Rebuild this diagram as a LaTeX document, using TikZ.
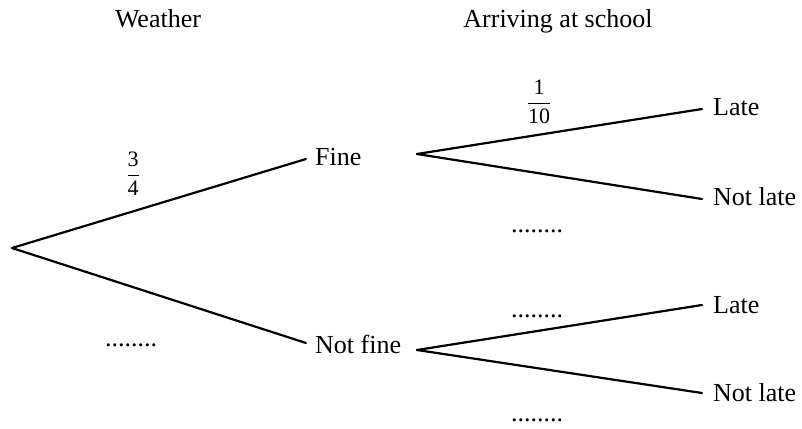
\documentclass[tikz,border=0pt]{standalone}
\usepackage{amsmath}
\usepackage{fontspec}
\setmainfont{Liberation Serif}
\begin{document}
\begin{tikzpicture}[x=1pt,y=-1pt,
  lbl/.style={inner sep=0pt,anchor=base west,font=\fontsize{26}{30}\selectfont},
  head/.style={inner sep=0pt,anchor=base,font=\fontsize{26}{30}\selectfont},
  frac/.style={inner sep=0pt,font=\fontsize{22}{25}\selectfont},
  branch/.style={line width=2.2pt,line cap=round}]
\useasboundingbox (0,0) rectangle (802,428);
% headings
\node[head] (weather) at (158,28) {Weather};
\node[head] (arriving) at (558,28) {Arriving at school};
% junction points
\coordinate (root) at (12,248);
\coordinate (fineend) at (306,159);
\coordinate (notfineend) at (306,343);
\coordinate (finestart) at (417,154);
\coordinate (notfinestart) at (417,350);
\coordinate (l1) at (702,109);
\coordinate (n1) at (702,199);
\coordinate (l2) at (702,305);
\coordinate (n2) at (702,393);
% labels
\node[lbl] (fine) at (315,165) {Fine};
\node[lbl] (notfine) at (315,353) {Not fine};
\node[lbl] (late1) at (713,115) {Late};
\node[lbl] (notlate1) at (713,205) {Not late};
\node[lbl] (late2) at (713,313) {Late};
\node[lbl] (notlate2) at (713,401) {Not late};
% probabilities
\node[frac] (p34) at (133,174) {$\genfrac{}{}{1.6pt}{0}{\text{3}}{\text{4}}$};
\node[frac] (p110) at (539,102) {$\genfrac{}{}{1.6pt}{0}{\text{1}}{\text{10}}$};
\node[head] (d1) at (131,346) {........};
\node[head] (d2) at (537,232) {........};
\node[head] (d3) at (537,317) {........};
\node[head] (d4) at (537,421) {........};
% branches
\draw[branch] (root) -- (fineend);
\draw[branch] (root) -- (notfineend);
\draw[branch] (finestart) -- (l1);
\draw[branch] (finestart) -- (n1);
\draw[branch] (notfinestart) -- (l2);
\draw[branch] (notfinestart) -- (n2);
\end{tikzpicture}
\end{document}
